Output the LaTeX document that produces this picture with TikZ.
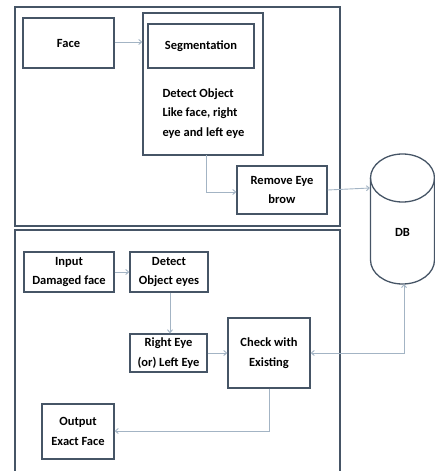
\documentclass[tikz,border=0pt]{standalone}
\usepackage{fontspec}
\setmainfont{Carlito}
\usetikzlibrary{arrows.meta}
\definecolor{boxc}{HTML}{465566}
\definecolor{arrc}{HTML}{A3B4C4}
\begin{document}
\begin{tikzpicture}[x=1pt,y=-1pt,
  frame/.style={draw=boxc,line width=1.3pt},
  blk/.style={draw=boxc,line width=1.3pt,align=center,font=\fontsize{12.5}{19.5}\selectfont\bfseries,inner sep=0pt},
  conn/.style={draw=arrc,line width=0.9pt,-{Straight Barb[length=3pt,width=5pt]}},
  lbl/.style={align=left,font=\fontsize{12.5}{19.5}\selectfont\bfseries}]
\useasboundingbox (0,0) rectangle (435,471);
\clip (0,0) rectangle (435,471);
% panels
\draw[frame] (15,7) rectangle (340,226);
\draw[frame] (15,230) rectangle (340,480);
% top panel
\node[blk,minimum width=91pt,minimum height=50pt] (face) at (68.5,43) {Face};
\node[frame,draw,minimum width=120pt,minimum height=142pt,inner sep=0pt] (cont) at (203,84) {};
\node[blk,minimum width=106pt,minimum height=44pt] (seg) at (201,46) {Segmentation};
\node[lbl,anchor=north west] (det) at (159,85) {Detect Object\\Like face, right\\eye and left eye};
\node[blk,minimum width=90pt,minimum height=48pt] (rem) at (282,190) {Remove Eye\\brow};
% DB cylinder
\draw[frame] (402.5,178) ellipse [x radius=32,y radius=24];
\draw[frame] (370.5,178) -- (370.5,260) arc[start angle=180,end angle=0,x radius=32,y radius=24] -- (434.5,178);
\node[font=\fontsize{12.5}{14}\selectfont\bfseries] (db) at (402.5,232) {DB};
\coordinate (dbbot) at (404,284);
% bottom panel
\node[blk,minimum width=90pt,minimum height=40pt] (inp) at (69,272) {Input\\Damaged face};
\node[blk,minimum width=78pt,minimum height=40pt] (dobj) at (169,272) {Detect\\Object eyes};
\node[blk,minimum width=77pt,minimum height=38pt] (eye) at (168.5,353) {Right Eye\\(or) Left Eye};
\node[blk,minimum width=82pt,minimum height=70pt] (chk) at (269,353) {Check with\\Existing};
\node[blk,minimum width=72pt,minimum height=55pt] (out) at (78,431.5) {Output\\Exact Face};
% connectors
\draw[conn] (face.east |- 0,42) -- (cont.west |- 0,42);
\draw[conn] (206,155) -- (206,192) -- (rem.west |- 0,192);
\draw[conn] (rem.east |- 0,190) -- (370,188);
\draw[conn] (inp.east) -- (dobj.west);
\draw[conn] (dobj.south -| 170,0) -- (eye.north -| 170,0);
\draw[conn] (eye.east) -- (chk.west |- eye.east);
\draw[conn,{Straight Barb[length=3pt,width=5pt]}-{Straight Barb[length=3pt,width=5pt]}] (chk.east) -- (404,353) -- (dbbot);
\draw[conn] (chk.south) -- (chk.south |- 0,431) -- (out.east |- 0,431);
\end{tikzpicture}
\end{document}
